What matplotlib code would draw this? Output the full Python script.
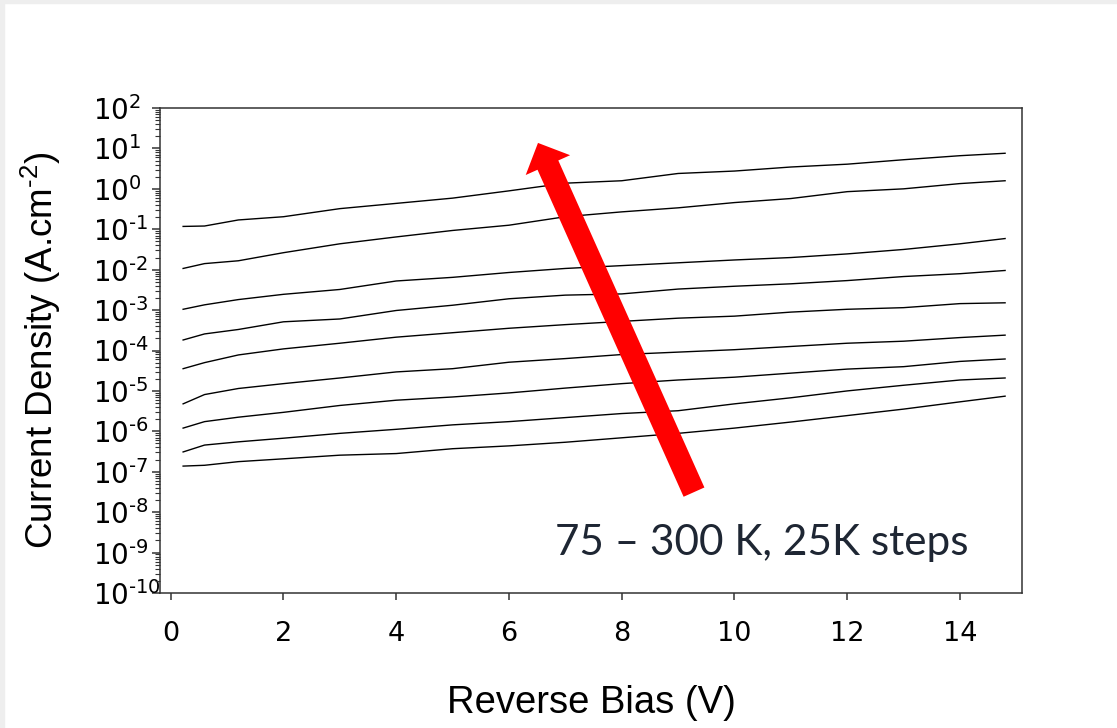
import numpy as np
import matplotlib
matplotlib.use("Agg")
import matplotlib.pyplot as plt
from matplotlib.ticker import LogLocator, FuncFormatter, NullFormatter
from matplotlib.patches import Rectangle

# reverse bias points (V) shared by every curve
bias = [0.22, 0.6, 1.2, 2, 3, 4, 5, 6, 7, 8, 9, 10, 11, 12, 13, 14, 14.8]

# log10 of current density (A/cm^2), lowest temperature first
log_j = [
    [-6.86, -6.84, -6.75, -6.68, -6.59, -6.55, -6.43, -6.36, -6.27, -6.16, -6.05, -5.92, -5.77, -5.61, -5.45, -5.27, -5.13],
    [-6.51, -6.34, -6.26, -6.17, -6.05, -5.95, -5.84, -5.76, -5.66, -5.56, -5.49, -5.32, -5.17, -5.00, -4.86, -4.73, -4.68],
    [-5.92, -5.76, -5.65, -5.53, -5.36, -5.23, -5.15, -5.05, -4.93, -4.82, -4.73, -4.66, -4.56, -4.46, -4.40, -4.27, -4.21],
    [-5.32, -5.09, -4.94, -4.82, -4.68, -4.53, -4.45, -4.29, -4.20, -4.10, -4.04, -3.98, -3.90, -3.82, -3.77, -3.68, -3.62],
    [-4.45, -4.30, -4.11, -3.96, -3.82, -3.67, -3.56, -3.45, -3.36, -3.28, -3.20, -3.15, -3.05, -2.98, -2.94, -2.84, -2.82],
    [-3.74, -3.59, -3.48, -3.29, -3.22, -3.01, -2.88, -2.72, -2.63, -2.60, -2.48, -2.41, -2.35, -2.27, -2.17, -2.10, -2.02],
    [-2.98, -2.87, -2.74, -2.61, -2.49, -2.28, -2.19, -2.07, -1.97, -1.90, -1.83, -1.76, -1.70, -1.61, -1.50, -1.36, -1.23],
    [-1.97, -1.85, -1.78, -1.58, -1.36, -1.19, -1.03, -0.90, -0.69, -0.57, -0.47, -0.34, -0.24, -0.07, 0.00, 0.13, 0.20],
    [-0.93, -0.92, -0.77, -0.69, -0.49, -0.36, -0.23, -0.05, 0.14, 0.20, 0.38, 0.44, 0.54, 0.61, 0.72, 0.82, 0.88],
]

x_ticks = [0, 2, 4, 6, 8, 10, 12, 14]
note = "75 – 300 K, 25K steps"


def decade_label(v, pos):
    # short hyphen for negative exponents
    e = int(round(np.log10(v)))
    s = str(e).replace('-', '\u2010')
    return r'$\mathregular{10^{%s}}$' % s


plt.rcParams['font.family'] = ['Liberation Sans', 'DejaVu Sans']
plt.rcParams['mathtext.fontset'] = 'custom'
plt.rcParams['mathtext.rm'] = 'Liberation Sans'
plt.rcParams['mathtext.it'] = 'Liberation Sans:italic'

fig = plt.figure(figsize=(11.17, 7.28), dpi=100)
fig.patch.set_facecolor('white')
# thin grey page border on the left and top
fig.patches.append(Rectangle((0, 0), 4 / 1117, 1, transform=fig.transFigure,
                             color='#eeeeee', zorder=0))
fig.patches.append(Rectangle((0, 1 - 3 / 728), 1, 3 / 728, transform=fig.transFigure,
                             color='#eeeeee', zorder=0))

ax = fig.add_axes([160 / 1117, 135 / 728, 862 / 1117, 485 / 728])

for row in log_j:
    ax.plot(bias, 10 ** np.array(row), color='black', lw=1.0)

ax.set_yscale('log')
ax.set_ylim(1e-10, 1e2)
ax.set_xlim(-0.19, 15.1)

ax.set_xticks(x_ticks)
ax.set_xticklabels([str(t) for t in x_ticks])
ax.yaxis.set_major_locator(LogLocator(base=10, numticks=30))
ax.yaxis.set_minor_locator(LogLocator(base=10, subs=np.arange(2, 10), numticks=30))
ax.yaxis.set_minor_formatter(NullFormatter())
ax.yaxis.set_major_formatter(FuncFormatter(decade_label))

for s in ax.spines.values():
    s.set_color('#333333')
    s.set_linewidth(1.1)

ax.tick_params(axis='x', direction='out', length=5, width=1.1, color='#333333',
               labelsize=19.5, pad=15, top=False)
ax.tick_params(axis='y', which='major', direction='out', length=5.5, width=1.1,
               color='#333333', labelsize=20, pad=43, right=False)
ax.tick_params(axis='y', which='minor', direction='out', length=3.5, width=0.8,
               color='#333333', right=False)
for lab in ax.get_yticklabels():
    lab.set_horizontalalignment('left')
    lab.set_fontfamily('DejaVu Sans')
for lab in ax.get_xticklabels():
    lab.set_fontfamily('DejaVu Sans')

ax.set_xlabel('Reverse Bias (V)', fontsize=27.5)
ax.set_ylabel('Current Density (A.cm$^{\\mathregular{\u20102}}$)', fontsize=26.5)
ax.xaxis.set_label_coords(0.5, -0.19)
ax.yaxis.set_label_coords(-0.113, 0.5)

# temperature direction arrow
ax.annotate('', xy=(0.4385, 0.928), xytext=(0.6195, 0.208),
            xycoords='axes fraction', textcoords='axes fraction',
            arrowprops=dict(arrowstyle='simple,head_length=1.75,head_width=3.5,tail_width=1.64',
                            mutation_scale=10, color='#ff0000', lw=0,
                            shrinkA=0, shrinkB=0))

ax.text(0.458, 0.078, note, transform=ax.transAxes, fontsize=30.4,
        family=['Lato', 'DejaVu Sans'], color='#1e2633', ha='left', va='baseline')

fig.savefig('out.png', dpi=100)
